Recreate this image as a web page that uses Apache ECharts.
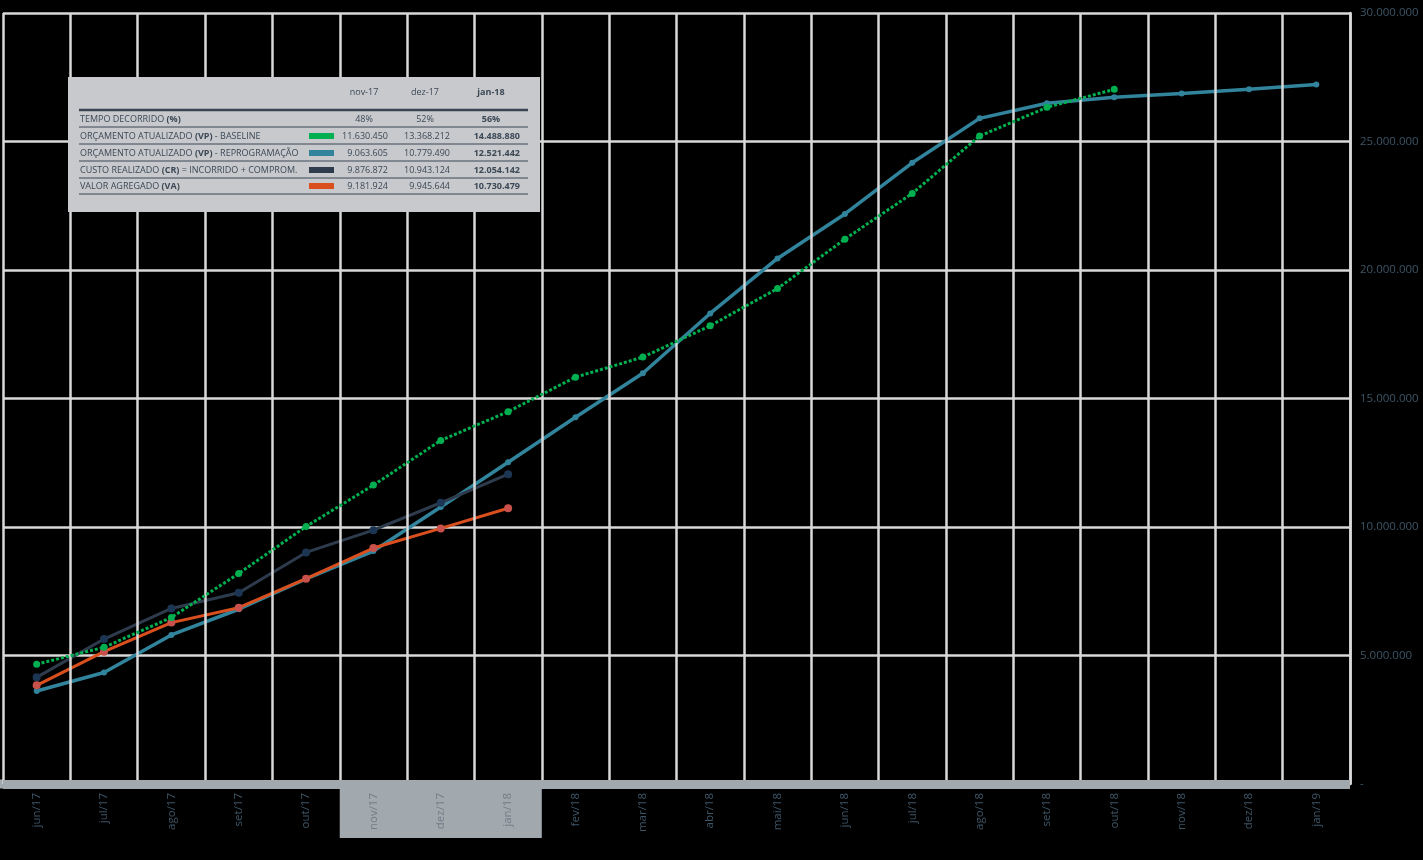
<!DOCTYPE html>
<html>
<head>
<meta charset="utf-8">
<script src="https://cdn.jsdelivr.net/npm/echarts@6/dist/echarts.min.js"></script>
<style>
html,body{margin:0;padding:0;background:#000;}
#chart{width:1423px;height:860px;}
</style>
</head>
<body>
<div id="chart"></div>
<script>
const categories = ['jun/17','jul/17','ago/17','set/17','out/17','nov/17','dez/17','jan/18','fev/18','mar/18','abr/18','mai/18','jun/18','jul/18','ago/18','set/18','out/18','nov/18','dez/18','jan/19'];
const baseline = [4660000,5320000,6480000,8190000,10020000,11630450,13368212,14488880,15830000,16610000,17830000,19280000,21200000,22980000,25210000,26330000,27030000,null,null,null];
const reprog = [3620000,4340000,5800000,6800000,7980000,9063605,10779490,12521442,14270000,15980000,18310000,20450000,22180000,24170000,25900000,26490000,26720000,26870000,27030000,27220000];
const custo = [4150000,5640000,6830000,7440000,9010000,9876872,10943124,12054142,null,null,null,null,null,null,null,null,null,null,null,null];
const valor = [3840000,5150000,6280000,6860000,7990000,9181924,9945644,10730479,null,null,null,null,null,null,null,null,null,null,null,null];
const yTicks = [0,5000000,10000000,15000000,20000000,25000000,30000000];
const highlightMonths = ['nov/17','dez/17','jan/18'];
const tableHeaders = ['nov-17','dez-17','jan-18'];
const elapsedPct = ['48%','52%','56%'];
const rowLabels = [
  ['ORÇAMENTO ATUALIZADO ','(VP)',' - BASELINE'],
  ['ORÇAMENTO ATUALIZADO ','(VP)',' - REPROGRAMAÇÃO'],
  ['CUSTO REALIZADO ','(CR)',' = INCORRIDO + COMPROM.'],
  ['VALOR AGREGADO ','(VA)','']
];
const seriesNames = ['ORÇAMENTO ATUALIZADO (VP) - BASELINE','ORÇAMENTO ATUALIZADO (VP) - REPROGRAMAÇÃO','CUSTO REALIZADO (CR) = INCORRIDO + COMPROM.','VALOR AGREGADO (VA)'];
const seriesColors = ['#00b050','#31849b','#2e3b4c','#d9501e'];

function fmt(v){
  if (v === 0) return '-';
  return String(Math.round(v)).replace(/\B(?=(\d{3})+(?!\d))/g,'.');
}

const chart = echarts.init(document.getElementById('chart'), null, {renderer:'canvas'});
const grid = {left:3, right:73, top:13, bottom:76};

const option = {
  backgroundColor:'#000',
  animation:false,
  grid: grid,
  xAxis:{
    type:'category',
    data:categories,
    boundaryGap:true,
    axisLine:{show:true, lineStyle:{color:'#a1a9af', width:9, cap:'butt'}},
    axisTick:{show:false},
    splitLine:{show:true, lineStyle:{color:'#d9d9d9', width:2.5}},
    axisLabel:{
      rotate:90, interval:0, margin:9, fontSize:11.5, fontFamily:'Open Sans',
      color:function(v){ return highlightMonths.indexOf(v) >= 0 ? '#737d86' : '#3f5667'; }
    },
    z:5
  },
  yAxis:{
    type:'value', position:'right', min:yTicks[0], max:yTicks[yTicks.length-1], interval:yTicks[1]-yTicks[0],
    axisLine:{show:true, lineStyle:{color:'#d9d9d9', width:2.5}},
    axisTick:{show:false},
    splitLine:{show:true, lineStyle:{color:'#d9d9d9', width:2.5}},
    axisLabel:{formatter:fmt, margin:10, fontSize:11.5, fontFamily:'Open Sans', color:'#3e5566'}
  },
  series:[
    {name:seriesNames[1], type:'line', data:reprog, z:2, symbol:'circle', symbolSize:6,
     itemStyle:{color:seriesColors[1]}, lineStyle:{color:seriesColors[1], width:3.5}},
    {name:seriesNames[2], type:'line', data:custo, z:3, symbol:'circle', symbolSize:8,
     itemStyle:{color:'#1c3553'}, lineStyle:{color:seriesColors[2], width:3}},
    {name:seriesNames[3], type:'line', data:valor, z:4, symbol:'circle', symbolSize:8,
     itemStyle:{color:'#c9514b'}, lineStyle:{color:seriesColors[3], width:3}},
    {name:seriesNames[0], type:'line', data:baseline, z:5, symbol:'circle', symbolSize:7,
     itemStyle:{color:seriesColors[0]}, lineStyle:{color:seriesColors[0], width:3, type:[3,2]}}
  ]
};
chart.setOption(option);

// highlight band under the x axis for the reported months
const c0 = chart.convertToPixel({xAxisIndex:0}, categories[0]);
const c1 = chart.convertToPixel({xAxisIndex:0}, categories[1]);
const band = c1 - c0;
const hx0 = chart.convertToPixel({xAxisIndex:0}, highlightMonths[0]) - band/2;
const hx1 = chart.convertToPixel({xAxisIndex:0}, highlightMonths[highlightMonths.length-1]) + band/2;
const yZero = chart.convertToPixel({yAxisIndex:0}, 0);

// table
const tx = 68, ty = 77, tw = 472, th = 135;
const lineL = 79, lineR = 528;
const rowY = [119, 136, 153, 170, 186];
const sepY = [110, 127, 144, 161, 178, 194];
const colRight = [388, 450, 520];
const colCenter = [364, 425, 491];
const txtColor = '#3b4856';
const tfont = 'Open Sans';
const fs = '9px ';
const gElems = [];
gElems.push({type:'rect', shape:{x:hx0, y:yZero+4, width:hx1-hx0, height:838-(yZero+4)}, style:{fill:'#a1a9af'}, z:1, silent:true});
gElems.push({type:'rect', shape:{x:0, y:yZero-4.5, width:grid.left+1, height:9}, style:{fill:'#a1a9af'}, z:1});
gElems.push({type:'rect', shape:{x:tx, y:ty, width:tw, height:th}, style:{fill:'#c8c9cc'}, z:10});
sepY.forEach(function(y,i){
  gElems.push({type:'line', shape:{x1:lineL, y1:y, x2:lineR, y2:y}, style:{stroke:'#3a4654', lineWidth: i===0 ? 2.5 : 1}, z:11});
});
tableHeaders.forEach(function(h,i){
  gElems.push({type:'text', x:colCenter[i], y:92.5, style:{text:h, fill:txtColor, font:(i===2?'bold ':'')+fs+tfont, align:'center', verticalAlign:'middle'}, z:12});
  gElems.push({type:'text', x:colCenter[i], y:rowY[0], style:{text:elapsedPct[i], fill:txtColor, font:(i===2?'bold ':'')+fs+tfont, align:'center', verticalAlign:'middle'}, z:12});
});
gElems.push({type:'text', x:80, y:rowY[0], style:{text:'{a|TEMPO DECORRIDO }{b|(%)}', rich:{a:{fill:txtColor, font:fs+tfont}, b:{fill:txtColor, font:'bold '+fs+tfont}}, verticalAlign:'middle'}, z:12});
const seriesData = [baseline, reprog, custo, valor];
const hIdx = highlightMonths.map(function(m){ return categories.indexOf(m); });
rowLabels.forEach(function(parts,r){
  const y = rowY[r+1];
  gElems.push({type:'text', x:80, y:y, style:{text:'{a|'+parts[0]+'}{b|'+parts[1]+'}{a|'+parts[2]+'}', rich:{a:{fill:txtColor, font:fs+tfont}, b:{fill:txtColor, font:'bold '+fs+tfont}}, verticalAlign:'middle'}, z:12});
  gElems.push({type:'rect', shape:{x:309, y:y-3, width:25, height:6}, style:{fill:seriesColors[r]}, z:12});
  hIdx.forEach(function(ci,k){
    gElems.push({type:'text', x:colRight[k], y:y, style:{text:fmt(seriesData[r][ci]), fill:txtColor, font:(k===2?'bold ':'')+fs+tfont, align:'right', verticalAlign:'middle'}, z:12});
  });
});
chart.setOption({graphic:gElems});
</script>
</body>
</html>
